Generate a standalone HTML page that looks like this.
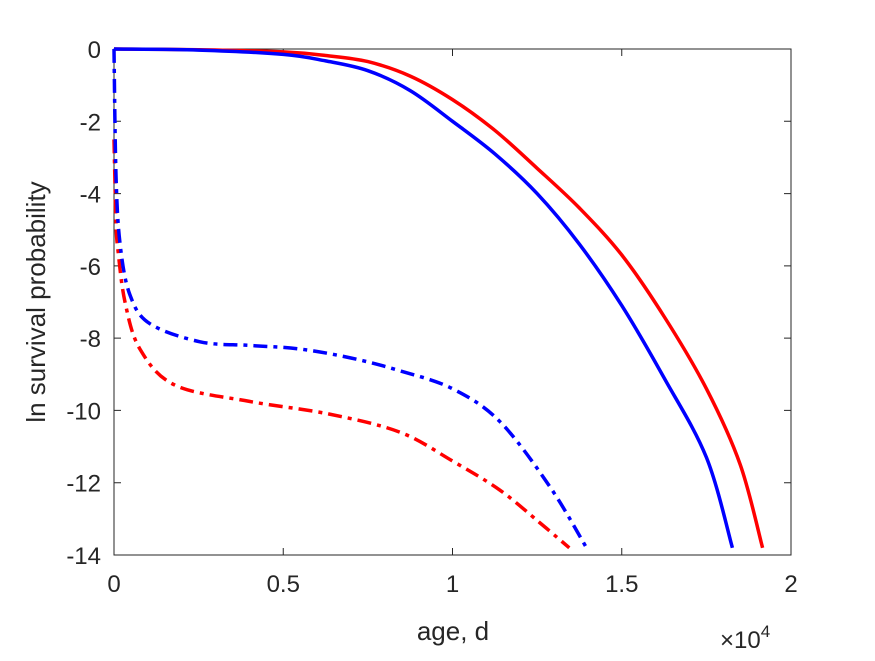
<!DOCTYPE html>
<html><head><meta charset="utf-8"><style>
body{margin:0;background:#fff}
svg text{font-family:"Liberation Sans",sans-serif;fill:#262626}
</style></head><body>
<svg width="875" height="656">
<g id="axes"></g>
<g id="series"></g>
</svg>
<script>
const xTicks=[0,5000,10000,15000,20000];
const xTickLabels=["0","0.5","1","1.5","2"];
const yTicks=[0,-2,-4,-6,-8,-10,-12,-14];
const blueSolidX=[0,2500,5000,6250,7500,8750,10000,11250,12500,13750,15000,16250,17500,18270];
const blueSolidY=[0,-0.03,-0.15,-0.33,-0.6,-1.15,-2.0,-2.9,-4.0,-5.4,-7.1,-9.1,-11.3,-13.8];
const redSolidX=[0,2500,5000,6250,7500,8750,10000,11250,12500,13750,15000,16250,17500,18500,19160];
const redSolidY=[0,-0.02,-0.08,-0.18,-0.35,-0.75,-1.4,-2.25,-3.3,-4.4,-5.7,-7.4,-9.4,-11.5,-13.8];
const blueDashX=[0,60,180,470,1060,2540,4000,5490,7000,8440,10000,11390,12870,13960];
const blueDashY=[0,-3.5,-5.4,-6.8,-7.6,-8.1,-8.2,-8.3,-8.55,-8.9,-9.4,-10.3,-12.1,-13.8];
const redDashX=[0,60,120,325,765,1800,4000,6350,8440,10000,11390,12570,13450];
const redDashY=[-2.5,-4.8,-5.6,-7.0,-8.3,-9.3,-9.75,-10.1,-10.6,-11.4,-12.2,-13.1,-13.8];
const L=114,R=791,T=49,B=555;
const X=v=>L+(v-0)/20000*(R-L);
const Y=v=>T+(0-v)/14*(B-T);
const NS="http://www.w3.org/2000/svg";
const ax=document.getElementById('axes'),se=document.getElementById('series');
function mk(tag,attrs,parent){const e=document.createElementNS(NS,tag);for(const k in attrs)e.setAttribute(k,attrs[k]);parent.appendChild(e);return e;}
const box=mk('rect',{x:L,y:T,width:R-L,height:B-T,fill:'none',stroke:'#262626','stroke-width':1},ax);


xTicks.forEach((t,i)=>{
 const x=X(t);
 const l=mk('path',{d:`M${x},${B}v-7M${x},${T}v7`,stroke:'#262626'},ax);
 
 
 const tx=mk('text',{x:x,y:592,'font-size':24,'text-anchor':'middle'},ax);tx.textContent=xTickLabels[i];
 
 
});
yTicks.forEach(t=>{
 const y=Y(t);
 const l=mk('path',{d:`M${L},${y}h7M${R},${y}h-7`,stroke:'#262626'},ax);
 
 
 const tx=mk('text',{x:101,y:y+9,'font-size':24,'text-anchor':'end'},ax);tx.textContent=String(t);
 
 
});
const xl=mk('text',{x:453,y:640,'font-size':26,'text-anchor':'middle'},ax);xl.textContent='age, d';


const ex=mk('text',{x:720,y:648,'font-size':24},ax);ex.innerHTML='×10<tspan dy="-11" font-size="17">4</tspan>';


const yl=mk('text',{x:0,y:0,'font-size':26,'text-anchor':'middle',transform:'translate(45,302) rotate(-90)'},ax);yl.textContent='ln survival probability';


function line(xs,ys,color,dash,name){
 const P=xs.map((v,i)=>[X(v),Y(ys[i])]);
 let d='M'+P[0][0].toFixed(1)+','+P[0][1].toFixed(1);
 for(let i=0;i<P.length-1;i++){
  const p0=P[i-1]||P[i],p1=P[i],p2=P[i+1],p3=P[i+2]||P[i+1];
  const c1=[p1[0]+(p2[0]-p0[0])/6,p1[1]+(p2[1]-p0[1])/6];
  const c2=[p2[0]-(p3[0]-p1[0])/6,p2[1]-(p3[1]-p1[1])/6];
  d+=`C${c1[0].toFixed(1)},${c1[1].toFixed(1)} ${c2[0].toFixed(1)},${c2[1].toFixed(1)} ${p2[0].toFixed(1)},${p2[1].toFixed(1)}`;
 }
 const p=mk('path',{d:d,fill:'none',stroke:color,'stroke-width':3.5,'stroke-dasharray':dash,'stroke-linejoin':'round'},se);
 
 
}
line(redSolidX,redSolidY,'#ff0000','none','red-solid-line');
line(blueSolidX,blueSolidY,'#0000ff','none','blue-solid-line');
line(redDashX,redDashY,'#ff0000','14 6 4 6','red-dashdot-line');
line(blueDashX,blueDashY,'#0000ff','14 6 4 6','blue-dashdot-line');
</script>
</body></html>
